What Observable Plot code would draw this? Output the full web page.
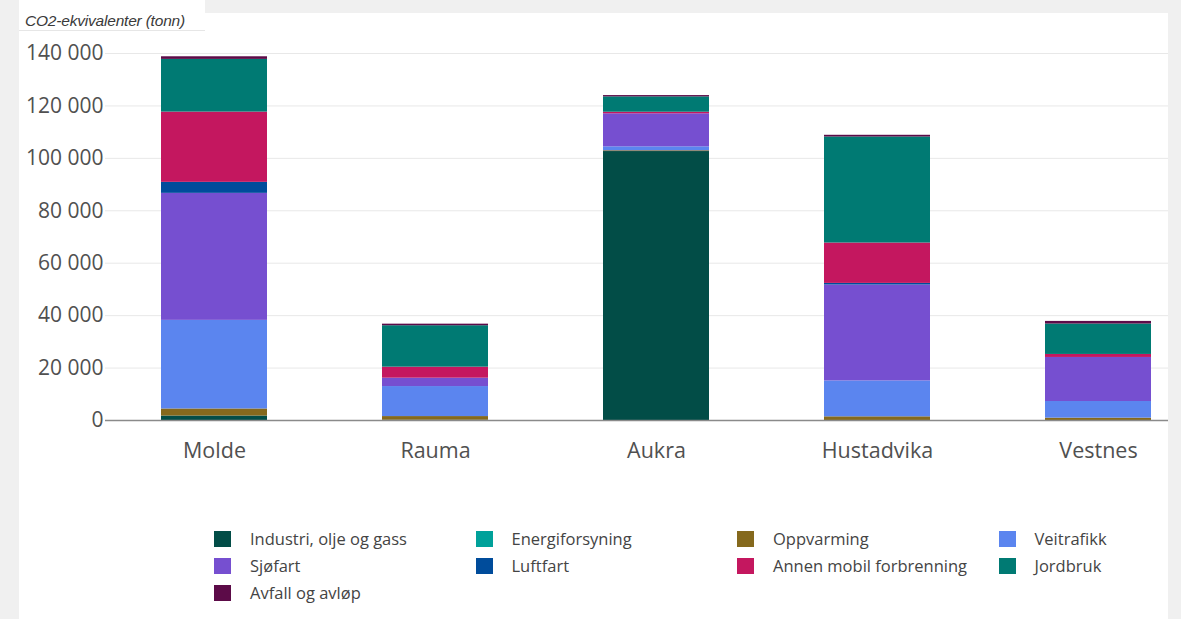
<!DOCTYPE html>
<html>
<head>
<meta charset="utf-8">
<script src="https://cdn.jsdelivr.net/npm/d3@7"></script>
<script src="https://cdn.jsdelivr.net/npm/@observablehq/plot@0.6"></script>
<style>
  body { margin: 0; background: #f0f0f0; width: 1181px; height: 619px; overflow: hidden; position: relative; font-family: "Open Sans", sans-serif; }
  #panel { position: absolute; left: 19px; top: 13px; width: 1149px; height: 606px; background: #fff; }
  #title { position: absolute; left: 19px; top: 0; width: 186px; height: 31px; background: #fff; border-bottom: 1px solid #e6e6e6; box-sizing: border-box;
           font-family: "Liberation Sans", Arial, sans-serif; font-style: italic; font-size: 15.5px; color: #3a3a3a; line-height: 20px; padding-top: 11px; padding-left: 6px; white-space: nowrap; letter-spacing: -0.2px; }
  #chart { position: absolute; left: 0; top: 0; }
  #legend { position: absolute; left: 214px; top: 525px; display: grid; grid-template-columns: repeat(4, 261.5px); grid-auto-rows: 27px; }
  .item { display: flex; align-items: center; height: 27px; font-size: 16.5px; color: #444; white-space: nowrap; }
  .sw { width: 17px; height: 16px; margin-right: 19px; flex: none; }
</style>
</head>
<body>
<div id="panel"></div>
<div id="title">CO2-ekvivalenter (tonn)</div>
<div id="chart"></div>
<div id="legend"></div>
<script>
const kommuner = ["Molde", "Rauma", "Aukra", "Hustadvika", "Vestnes"];
const sektorer = ["Industri, olje og gass", "Energiforsyning", "Oppvarming", "Veitrafikk", "Sjøfart", "Luftfart", "Annen mobil forbrenning", "Jordbruk", "Avfall og avløp"];
const farger = ["#024d47", "#00a19a", "#85691d", "#5b85ef", "#764fd0", "#004c9b", "#c4175f", "#007a73", "#5c0b48"];

// values per sector, in the order of kommuner (tonn CO2-ekvivalenter)
const industri        = [1700, 100, 102600, 0, 0];
const energiforsyning = [0, 0, 0, 0, 0];
const oppvarming      = [2700, 1400, 300, 1400, 900];
const veitrafikk      = [33800, 11450, 1500, 13700, 6350];
const sjofart         = [48450, 3200, 12600, 36600, 16800];
const luftfart        = [4200, 0, 0, 600, 0];
const annenMobil      = [26800, 4200, 600, 15400, 1150];
const jordbruk        = [20100, 15800, 5850, 40450, 11600];
const avfall          = [1000, 600, 500, 650, 1000];

const yTicks = [0, 20000, 40000, 60000, 80000, 100000, 120000, 140000];

const serier = [industri, energiforsyning, oppvarming, veitrafikk, sjofart, luftfart, annenMobil, jordbruk, avfall];
const data = [];
sektorer.forEach((s, i) => kommuner.forEach((k, j) => data.push({kommune: k, sektor: s, verdi: serier[i][j]})));

const fmt = d => d3.format(",")(d).replace(/,/g, " ");

const chart = Plot.plot({
  width: 1181,
  height: 480,
  marginLeft: 105,
  marginRight: 13,
  marginTop: 53,
  marginBottom: 60,
  style: { fontFamily: "'Open Sans', sans-serif", fontSize: "21px", color: "#505050", background: "transparent", overflow: "visible" },
  x: { type: "band", domain: kommuner, range: [103.5, 1208.5], paddingInner: 0.52, paddingOuter: 0.26, label: null },
  y: { domain: [0, 140000], label: null },
  color: { domain: sektorer, range: farger },
  marks: [
    Plot.gridY(yTicks, { stroke: "#e8e8e8", strokeOpacity: 1 }),
    Plot.barY(data, { x: "kommune", y: "verdi", fill: "sektor" }),
    Plot.ruleY([0], { stroke: "#8a8a8a", strokeWidth: 1.5 }),
    Plot.axisY(yTicks, { tickSize: 0, tickPadding: 2, tickFormat: fmt, label: null }),
    Plot.axisX({ tickSize: 0, tickPadding: 22, label: null, fontSize: 21.5 })
  ]
});
document.getElementById("chart").appendChild(chart);

const legend = document.getElementById("legend");
sektorer.forEach((s, i) => {
  const it = document.createElement("div");
  it.className = "item";
  const sw = document.createElement("span");
  sw.className = "sw";
  sw.style.background = farger[i];
  const t = document.createElement("span");
  t.textContent = s;
  it.appendChild(sw);
  it.appendChild(t);
  legend.appendChild(it);
});
</script>
</body>
</html>
